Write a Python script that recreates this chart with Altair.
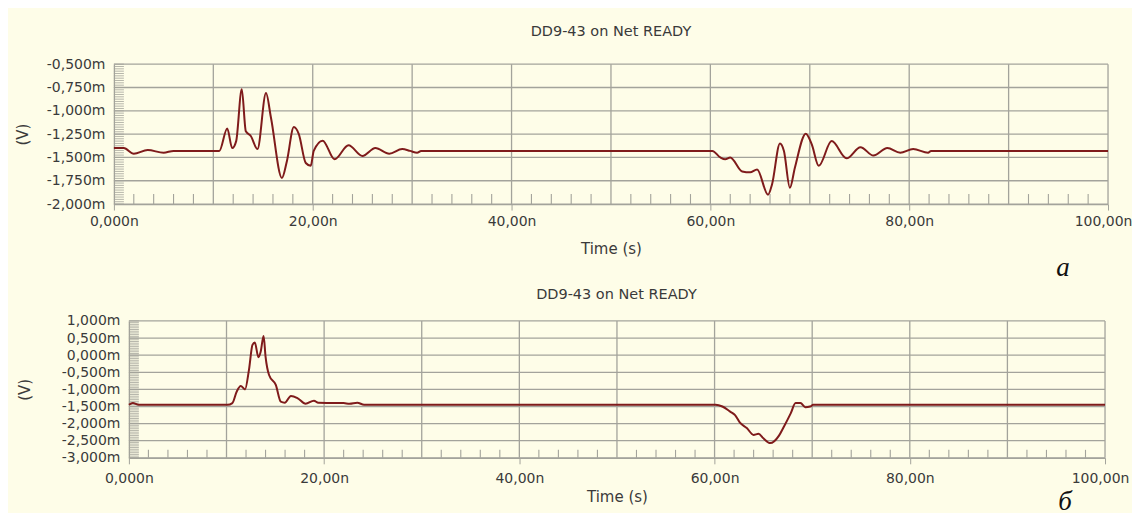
import altair as alt
import pandas as pd

# ---- data ----
top_t = [0, 1.0, 2.0, 3.4, 5.0, 6.0, 10.0, 10.6, 11.4, 11.9,
         12.3, 12.86, 13.27, 13.77, 14.44, 15.3, 15.8, 16.9, 17.4, 18.1,
         18.6, 19.3, 19.8, 20.1, 21.0, 22.2, 23.6, 25.0, 26.3, 27.7,
         29.0, 29.8, 30.5, 30.9, 60.2, 61.0, 61.5, 62.0, 63.2, 64.0,
         64.7, 65.8, 66.2, 67.0, 67.4, 68.0, 68.5, 69.6, 70.2, 70.9,
         72.2, 73.7, 75.1, 76.4, 77.8, 79.1, 80.4, 81.9, 82.2, 100]
top_v = [-1.40, -1.40, -1.46, -1.42, -1.45, -1.43, -1.43, -1.43, -1.19, -1.40,
         -1.325, -0.77, -1.22, -1.27, -1.41, -0.81, -1.075, -1.72, -1.54, -1.175,
         -1.25, -1.56, -1.59, -1.43, -1.32, -1.52, -1.37, -1.485, -1.40, -1.46,
         -1.41, -1.43, -1.45, -1.43, -1.43, -1.50, -1.52, -1.50, -1.65, -1.66,
         -1.63, -1.90, -1.79, -1.35, -1.43, -1.825, -1.61, -1.245, -1.36, -1.59,
         -1.325, -1.51, -1.39, -1.48, -1.40, -1.45, -1.41, -1.45, -1.43, -1.43]

bot_t = [0, 0.4, 1.0, 10.1, 10.6, 11.05, 11.46, 11.9, 12.3, 12.66,
         12.9, 13.27, 13.5, 13.8, 14.0, 14.36, 15.05, 15.56, 15.97, 16.6,
         17.3, 18.1, 18.96, 19.4, 22.0, 22.6, 23.4, 24.1, 60.1, 60.8,
         61.6, 62.1, 62.6, 63.3, 63.99, 64.5, 65.0, 65.7, 66.6, 67.1,
         67.8, 68.3, 68.8, 69.3, 69.8, 70.1, 100]
bot_v = [-1.45, -1.40, -1.45, -1.45, -1.40, -1.06, -0.90, -1.00, -0.43, 0.30,
         0.37, -0.06, 0.10, 0.56, -0.04, -0.58, -0.87, -1.36, -1.39, -1.19,
         -1.26, -1.42, -1.33, -1.39, -1.40, -1.42, -1.39, -1.45, -1.45, -1.50,
         -1.65, -1.75, -1.97, -2.13, -2.33, -2.30, -2.43, -2.57, -2.35, -2.09,
         -1.70, -1.40, -1.40, -1.52, -1.50, -1.45, -1.45]

x_labels = [0, 20, 40, 60, 80, 100]
x_grid = [10, 20, 30, 40, 50, 60, 70, 80, 90, 100]
x_minor = [v for v in range(2, 100, 2) if v % 10 != 0]

top_y_ticks = [-2.0, -1.75, -1.5, -1.25, -1.0, -0.75, -0.5]
top_y_minor = [round(-2.0 + 0.025 * i, 4) for i in range(61)]
bot_y_ticks = [-3.0, -2.5, -2.0, -1.5, -1.0, -0.5, 0.0, 0.5, 1.0]
bot_y_minor = [round(-3.0 + 0.05 * i, 4) for i in range(81)]

title_text = "DD9-43 on Net READY"

# ---- style ----
BG = "#fefde8"
GRID = "#a3a39b"
LINE = "#7f1b1b"
TXT = "#3a3a3a"
FONT = "DejaVu Sans"

y_label_expr = "(datum.value < 0 ? '-' : '') + replace(format(abs(datum.value), '.3f'), '.', ',') + 'm'"
x_label_expr = "datum.value == 0 ? '0,000n' : replace(format(datum.value, '.2f'), '.', ',') + 'n'"


def panel(ts, vs, yticks, yminor, ydom, x0, W, H, tick_len, title_offset, title_dx,
          y_label_pad, y_title_pad, x_label_pad, x_title_pad, mark_letter, letter_xy):
    line_df = pd.DataFrame({"t": ts, "v": vs})
    xs = alt.Scale(domain=[0, 100], nice=False, zero=False, range=[x0, x0 + W])
    ysc = alt.Scale(domain=ydom, nice=False, zero=False)
    x_axis = alt.Axis(
        values=x_labels, labelExpr=x_label_expr, title="Time (s)", grid=False,
        tickSize=6, tickColor=GRID, domainColor=GRID, domainWidth=1.3,
        labelPadding=x_label_pad, titlePadding=x_title_pad,
        labelFlush=False, labelOverlap=False,
        labelOffset={"condition": {"test": "datum.value == 100", "value": -5}, "value": 0})
    y_axis = alt.Axis(
        values=yticks, labelExpr=y_label_expr, title="(V)", grid=False,
        ticks=False, domainColor=GRID, domainWidth=1.3, offset=-x0,
        labelFlush=False, labelOverlap=False,
        labelPadding=y_label_pad, titlePadding=y_title_pad)

    line = alt.Chart(line_df).mark_line(color=LINE, strokeWidth=2.0, interpolate="monotone").encode(
        x=alt.X("t:Q", scale=xs, axis=x_axis),
        y=alt.Y("v:Q", scale=ysc, axis=y_axis),
    )
    hgrid = alt.Chart(pd.DataFrame({"v": yticks})).mark_rule(color=GRID, strokeWidth=1.3).encode(
        y=alt.Y("v:Q", scale=ysc, axis=y_axis), x=alt.value(x0), x2=alt.value(x0 + W))
    vgrid = alt.Chart(pd.DataFrame({"t": x_grid})).mark_rule(color=GRID, strokeWidth=1.3).encode(
        x=alt.X("t:Q", scale=xs, axis=x_axis), y=alt.value(0), y2=alt.value(H))
    xmin = alt.Chart(pd.DataFrame({"t": x_minor})).mark_rule(color=GRID, strokeWidth=1.1).encode(
        x=alt.X("t:Q", scale=xs, axis=x_axis), y=alt.value(H - tick_len), y2=alt.value(H))
    ymin = alt.Chart(pd.DataFrame({"v": yminor})).mark_rule(color=GRID, strokeWidth=0.8).encode(
        y=alt.Y("v:Q", scale=ysc, axis=y_axis), x=alt.value(x0), x2=alt.value(x0 + 10))
    letter = alt.Chart(pd.DataFrame({"s": [mark_letter]})).mark_text(
        font="Liberation Serif", fontStyle="italic", fontSize=27, color="#111111",
        align="center", baseline="alphabetic").encode(
        text="s:N", x=alt.value(letter_xy[0]), y=alt.value(letter_xy[1]))

    return alt.layer(hgrid, vgrid, ymin, xmin, line, letter).properties(
        width=x0 + W, height=H,
        title=alt.TitleParams(title_text, font=FONT, fontSize=14.5, fontWeight="normal",
                              color=TXT, offset=title_offset, anchor="middle", dx=title_dx))


top = panel(top_t, top_v, top_y_ticks, top_y_minor, [-2.0, -0.5], 0, 995, 140, 10, 18, 0,
            9, 16, 4, 13, "a", (950, 212))
bottom = panel(bot_t, bot_v, bot_y_ticks, bot_y_minor, [-3.0, 1.0], 15, 977, 137, 8, 11, 7,
               9, 29, 8, 4, "б", (952, 189))

chart = alt.concat(top, bottom, columns=1, spacing=6, background=BG).properties(
    padding={"left": 7, "top": 15, "right": 0, "bottom": 0}
).configure_axis(
    labelFont=FONT, labelFontSize=14, labelColor=TXT,
    titleFont=FONT, titleFontSize=15, titleFontWeight="normal", titleColor=TXT,
).configure_view(stroke=None)

chart.save("out.html", embed_options={"renderer": "svg", "actions": False})
